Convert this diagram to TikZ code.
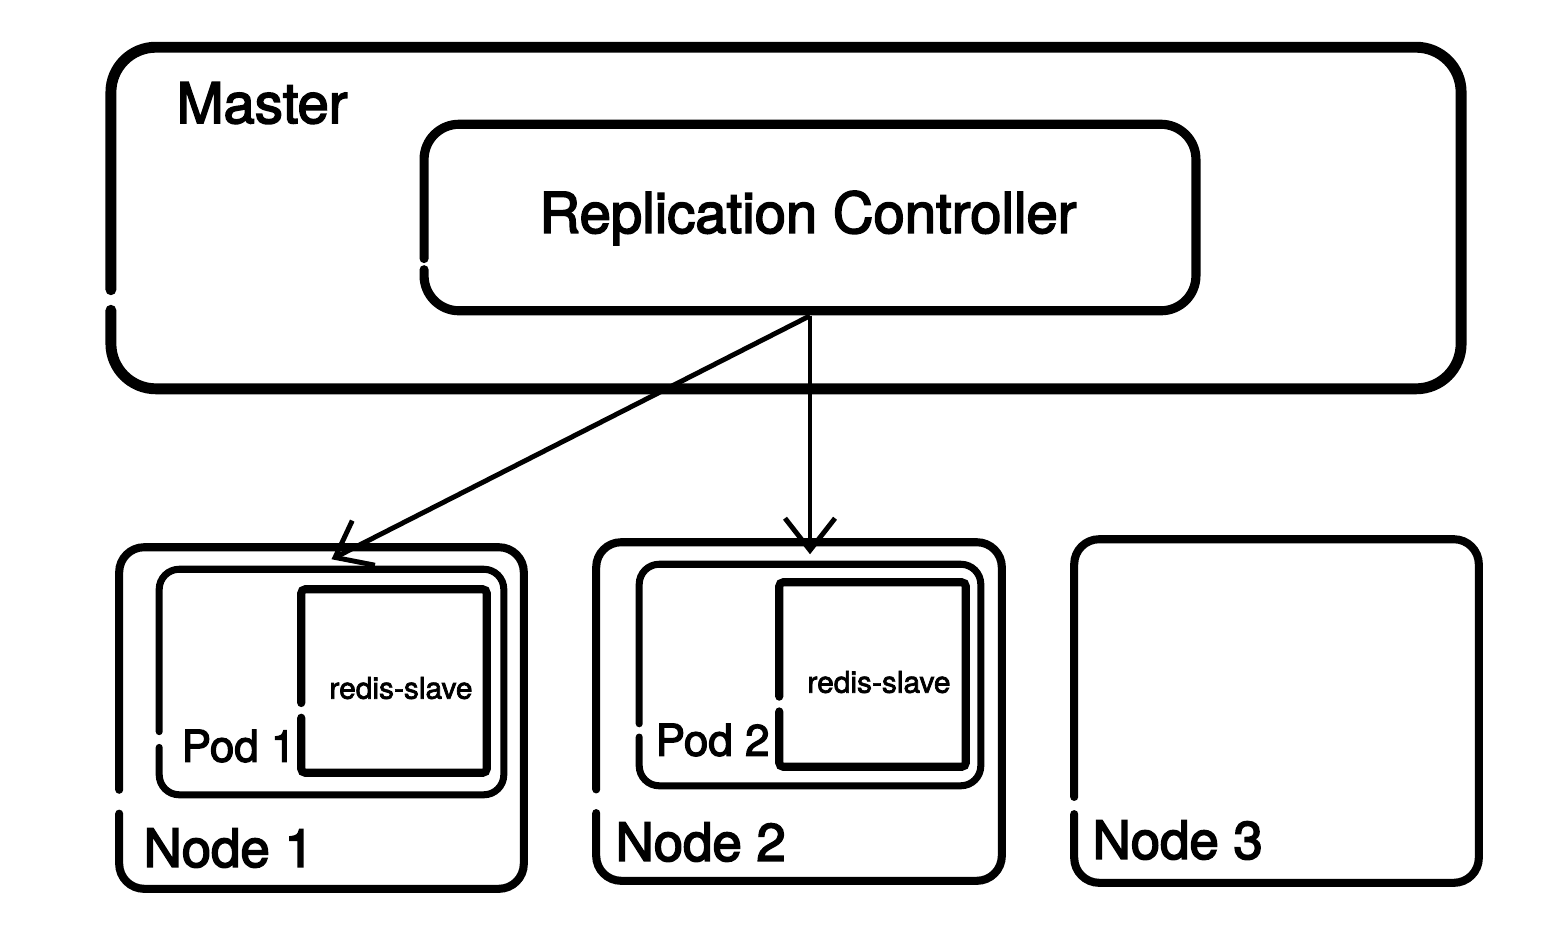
\documentclass[tikz,border=0pt]{standalone}
\usepackage{fontspec}
\setmainfont{TeX Gyre Heros}
\usetikzlibrary{arrows.meta,calc}

% slightly heavier text: fill and stroke the glyphs
\newcommand{\heavy}[2][0.45]{\special{pdf:literal q 2 Tr #1 w}#2\special{pdf:literal Q}}

\tikzset{
  box/.style={draw=none, inner sep=0pt},
  label/.style={inner sep=0pt},
  masterline/.style={line width=3.1pt, rounded corners=0.45cm, line cap=round},
  rcline/.style={line width=2.6pt, rounded corners=0.35cm, line cap=round},
  nodeline/.style={line width=2.3pt, rounded corners=0.25cm, line cap=round},
  podline/.style={line width=2pt, rounded corners=0.2cm, line cap=round},
  redisline/.style={line width=2.3pt, rounded corners=0.04cm, line cap=round},
  link/.style={line width=1.4pt, -{Straight Barb[length=3.2mm, width=5mm, line width=1.4pt]}},
}

\begin{document}
\begin{tikzpicture}[x=0.01cm, y=-0.01cm]
    \useasboundingbox (0,0) rectangle (1546,926);
    % Boxes
    \node[box, minimum width=13.48cm, minimum height=3.40cm] (master) at (786,218) {};
    \node[box, minimum width=7.70cm, minimum height=1.85cm] (rc) at (810,217.5) {};
    \node[box, minimum width=4.03cm, minimum height=3.40cm] (node1) at (321.5,718) {};
    \node[box, minimum width=4.04cm, minimum height=3.37cm] (node2) at (799,711.5) {};
    \node[box, minimum width=4.03cm, minimum height=3.42cm] (node3) at (1276.5,711) {};
    \node[box, minimum width=3.43cm, minimum height=2.24cm] (pod1) at (331.5,682) {};
    \node[box, minimum width=3.40cm, minimum height=2.20cm] (pod2) at (810,675) {};
    \node[box, minimum width=1.84cm, minimum height=1.82cm] (redis1) at (394,681) {};
    \node[box, minimum width=1.85cm, minimum height=1.83cm] (redis2) at (872.5,674.5) {};

    % Outlines, open on the left side
    \draw[masterline] ($(master.north west)!0.77!(master.south west)$) -- (master.south west) -- (master.south east) -- (master.north east) -- (master.north west) -- ($(master.north west)!0.71!(master.south west)$);
    \draw[rcline] ($(rc.north west)!0.78!(rc.south west)$) -- (rc.south west) -- (rc.south east) -- (rc.north east) -- (rc.north west) -- ($(rc.north west)!0.72!(rc.south west)$);
    \draw[nodeline] ($(node1.north west)!0.78!(node1.south west)$) -- (node1.south west) -- (node1.south east) -- (node1.north east) -- (node1.north west) -- ($(node1.north west)!0.71!(node1.south west)$);
    \draw[nodeline] ($(node2.north west)!0.80!(node2.south west)$) -- (node2.south west) -- (node2.south east) -- (node2.north east) -- (node2.north west) -- ($(node2.north west)!0.73!(node2.south west)$);
    \draw[nodeline] ($(node3.north west)!0.80!(node3.south west)$) -- (node3.south west) -- (node3.south east) -- (node3.north east) -- (node3.north west) -- ($(node3.north west)!0.75!(node3.south west)$);
    \draw[podline] ($(pod1.north west)!0.79!(pod1.south west)$) -- (pod1.south west) -- (pod1.south east) -- (pod1.north east) -- (pod1.north west) -- ($(pod1.north west)!0.72!(pod1.south west)$);
    \draw[podline] ($(pod2.north west)!0.78!(pod2.south west)$) -- (pod2.south west) -- (pod2.south east) -- (pod2.north east) -- (pod2.north west) -- ($(pod2.north west)!0.72!(pod2.south west)$);
    \draw[redisline] ($(redis1.north west)!0.70!(redis1.south west)$) -- (redis1.south west) -- (redis1.south east) -- (redis1.north east) -- (redis1.north west) -- ($(redis1.north west)!0.62!(redis1.south west)$);
    \draw[redisline] ($(redis2.north west)!0.70!(redis2.south west)$) -- (redis2.south west) -- (redis2.south east) -- (redis2.north east) -- (redis2.north west) -- ($(redis2.north west)!0.62!(redis2.south west)$);

    % Labels
    \node[label, anchor=west, font=\fontsize{16}{19}\selectfont] (masterlabel) at (176,103) {\heavy{Master}};
    \node[label, font=\fontsize{16}{19}\selectfont] (rclabel) at (808,218) {\heavy{Replication Controller}};
    \node[label, anchor=west, font=\fontsize{15}{18}\selectfont] (node1label) at (143,848) {\heavy{Node 1}};
    \node[label, anchor=west, font=\fontsize{15}{18}\selectfont] (node2label) at (615,842) {\heavy{Node 2}};
    \node[label, anchor=west, font=\fontsize{15}{18}\selectfont] (node3label) at (1092,840) {\heavy{Node 3}};
    \node[label, anchor=west, font=\fontsize{12.5}{15}\selectfont] (pod1label) at (181,746) {\heavy[0.35]{Pod 1}};
    \node[label, anchor=west, font=\fontsize{12.5}{15}\selectfont] (pod2label) at (655,740) {\heavy[0.35]{Pod 2}};
    \node[label, font=\fontsize{8.5}{10}\selectfont] (redis1label) at (401,688) {\heavy[0.2]{redis-slave}};
    \node[label, font=\fontsize{8.5}{10}\selectfont] (redis2label) at (879,682) {\heavy[0.2]{redis-slave}};

    % Connection
    \draw[link] ([yshift=-0.05cm]rc.south) -- ([yshift=0.1cm]pod1.north);
    \draw[link] ([yshift=-0.05cm]rc.south) -- ([yshift=0.1cm]pod2.north);
\end{tikzpicture}
\end{document}
